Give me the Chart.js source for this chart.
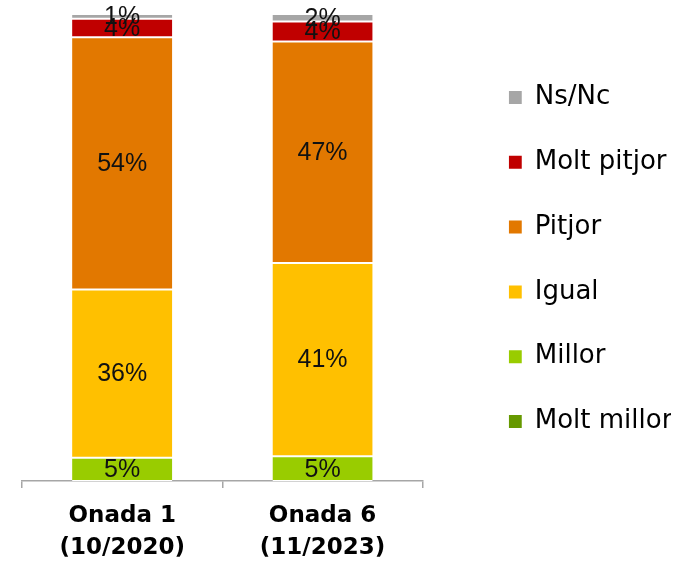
<!DOCTYPE html>
<html>
<head>
<meta charset="utf-8">
<script src="https://cdn.jsdelivr.net/npm/chart.js@4/dist/chart.umd.min.js"></script>
<style>
  body { margin: 0; background: #fff; }
  #wrap { width: 682px; height: 565px; position: relative; }
</style>
</head>
<body>
<div id="wrap"><canvas id="chart"></canvas></div>
<script>
const categories = [['Onada 1', '(10/2020)'], ['Onada 6', '(11/2023)']]

// bottom to top of each bar
const seriesNames = ['Molt millor', 'Millor', 'Igual', 'Pitjor', 'Molt pitjor', 'Ns/Nc']
const moltMillor = [0, 0]
const millor = [5, 5.3]
const igual = [36, 41.4]
const pitjor = [54, 47.4]
const moltPitjor = [4, 4.3]
const nsNc = [1, 1.6]

const colors = ['#669900', '#99CC00', '#FFC000', '#E27800', '#C00000', '#A6A6A6']
const values = [moltMillor, millor, igual, pitjor, moltPitjor, nsNc]

const ctx = document.getElementById('chart')

// percentage labels in the middle of each segment
const segmentLabels = {
  id: 'segmentLabels',
  afterDatasetsDraw(chart) {
    const c = chart.ctx
    c.save()
    c.font = '25px "Liberation Sans"'
    c.fillStyle = '#111'
    c.textAlign = 'center'
    c.textBaseline = 'middle'
    chart.data.datasets.forEach((ds, i) => {
      chart.getDatasetMeta(i).data.forEach((bar, j) => {
        const v = ds.data[j]
        if (v < 0.5) return
        const {x, y, base} = bar.getProps(['x', 'y', 'base'], true)
        c.fillText(Math.round(v) + '%', x, (y + base) / 2 + 1)
      })
    })
    c.restore()
  }
}

new Chart(ctx, {
  type: 'bar',
  data: {
    labels: categories,
    datasets: seriesNames.map((name, i) => ({
      label: name,
      data: values[i],
      backgroundColor: colors[i],
      borderColor: '#ffffff',
      borderWidth: {top: 1, bottom: 1, left: 0, right: 0},
      borderSkipped: false,
      categoryPercentage: 1,
      barPercentage: 0.5,
    })),
  },
  options: {
    responsive: true,
    maintainAspectRatio: false,
    animation: false,
    layout: {
      padding: {top: 14, left: 22, right: 11, bottom: 0}
    },
    scales: {
      x: {
        stacked: true,
        grid: {
          drawOnChartArea: false,
          drawTicks: true,
          tickLength: 7,
          color: '#A6A6A6',
          lineWidth: 1.5,
        },
        border: {color: '#A6A6A6', width: 1.5},
        ticks: {
          color: '#000',
          padding: 12,
          font: {family: 'DejaVu Sans', size: 23, weight: 'bold', lineHeight: '32px'},
        },
        afterFit: (scale) => { scale.height = 84 },
      },
      y: {
        stacked: true,
        min: 0,
        max: 100,
        position: 'right',
        grid: {display: false},
        border: {display: false},
        ticks: {display: false},
        afterFit: (scale) => { scale.width = 86 },
      },
    },
    plugins: {
      tooltip: {enabled: false},
      legend: {
        position: 'right',
        align: 'start',
        reverse: true,
        title: {
          display: true,
          text: '',
          padding: 30,
          font: {size: 10, lineHeight: '10.5px'},
        },
        labels: {
          boxWidth: 13,
          boxHeight: 13,
          padding: 0,
          color: '#000',
          font: {family: 'DejaVu Sans', size: 26, lineHeight: '64.8px'},
          generateLabels: (chart) =>
            Chart.defaults.plugins.legend.labels.generateLabels(chart)
              .map(item => ({...item, text: [item.text], lineWidth: 0})),
        },
      },
    },
  },
  plugins: [segmentLabels],
})
</script>
</body>
</html>
